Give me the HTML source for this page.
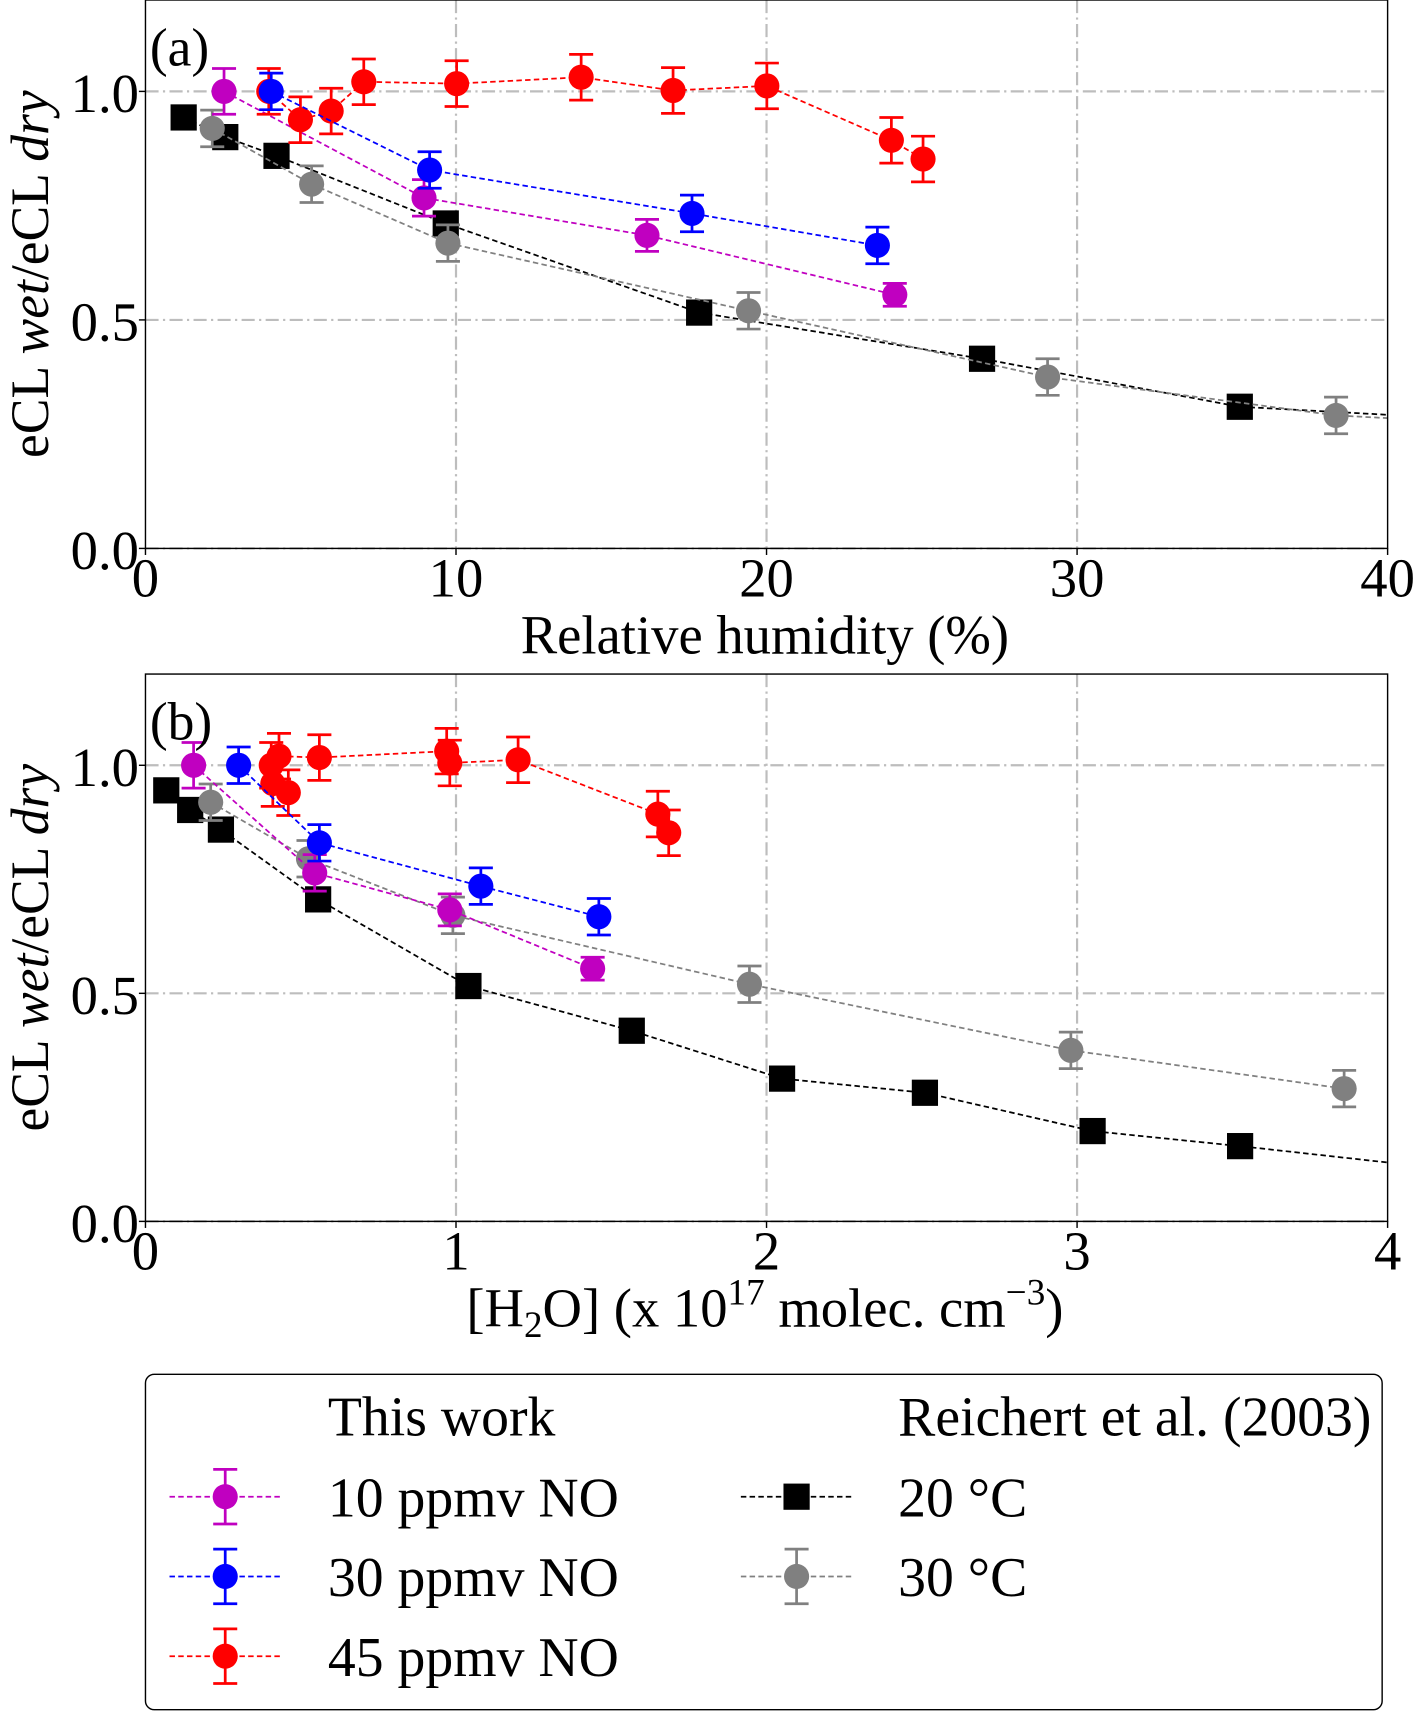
<!DOCTYPE html>
<html><head><meta charset="utf-8"><style>
html,body{margin:0;padding:0;background:#fff;}
svg{display:block;font-family:"Liberation Serif",serif;}
</style></head><body>
<svg id="chart" width="1414" height="1713" viewBox="0 0 1294 1568" xmlns="http://www.w3.org/2000/svg">
<defs>
<clipPath id="clipA"><rect x="133" y="0" width="1137" height="502"/></clipPath>
<clipPath id="clipB"><rect x="133" y="617" width="1137" height="501"/></clipPath>
</defs>
<g id="panelA"></g>
<g id="panelB"></g>
<g id="legend">
<rect x="133" y="1258" width="1132" height="307" rx="8" fill="#fff" stroke="#000" stroke-width="1.3"/>
<text x="300" y="1314" font-size="51">This work</text>
<text x="822" y="1314" font-size="51">Reichert et al. (2003)</text>
</g>
</svg>
<script>
// Panel (a): relative humidity (%)
const magentaA_x=[2.53,8.97,16.15,24.13];
const magentaA_y=[1.0,0.767,0.685,0.555];
const blueA_x=[4.05,9.15,17.6,23.57];
const blueA_y=[1.0,0.828,0.733,0.663];
const redA_x=[3.97,4.99,5.98,7.03,10.02,14.03,16.99,20.01,24.02,25.04];
const redA_y=[1.0,0.938,0.957,1.021,1.017,1.031,1.002,1.012,0.893,0.852];
const blackA_x=[1.23,2.57,4.22,9.67,17.83,26.94,35.24,42.0];
const blackA_y=[0.943,0.9,0.859,0.711,0.516,0.415,0.31,0.285];
const grayA_x=[2.15,5.35,9.74,19.42,29.05,38.34,42.0];
const grayA_y=[0.919,0.797,0.668,0.52,0.375,0.291,0.278];
// Panel (b): [H2O] (1e17 molec cm-3)
const magentaB_x=[0.155,0.545,0.98,1.44];
const magentaB_y=[1.0,0.764,0.683,0.554];
const blueB_x=[0.30,0.56,1.08,1.46];
const blueB_y=[1.0,0.83,0.735,0.668];
const redB_x=[0.405,0.46,0.41,0.43,0.56,0.97,0.98,1.2,1.65,1.685];
const redB_y=[1.0,0.94,0.96,1.02,1.017,1.031,1.005,1.012,0.893,0.852];
const blackB_x=[0.067,0.144,0.243,0.556,1.04,1.566,2.05,2.51,3.05,3.525,4.2];
const blackB_y=[0.945,0.902,0.859,0.706,0.516,0.418,0.313,0.282,0.198,0.165,0.114];
const grayB_x=[0.21,0.525,0.99,1.945,2.98,3.86];
const grayB_y=[0.919,0.795,0.671,0.52,0.375,0.291];
const errMagenta=[0.05,0.04,0.035,0.025], errBlue=0.04, errRed=0.05, errGray=0.04;
const xTicksA=["0","10","20","30","40"], xTickValsA=[0,10,20,30,40];
const xTicksB=["0","1","2","3","4"], xTickValsB=[0,1,2,3,4];
const yTicks=["0.0","0.5","1.0"], yTickVals=[0,0.5,1.0];

const NS="http://www.w3.org/2000/svg";
function mk(tag,attrs,parent){const e=document.createElementNS(NS,tag);for(const k in attrs)e.setAttribute(k,attrs[k]);parent.appendChild(e);return e;}

function panel(g,top,bottom,xmax,clip,xTicks,xVals,label,xtitle,series){
  const left=133,right=1270;
  const sx=v=>left+v/xmax*(right-left);
  const sy=v=>bottom-v*(bottom-top)/1.2;
  xVals.forEach(v=>{if(v>0&&v<xmax){const l=mk('line',{x1:sx(v),x2:sx(v),y1:top,y2:bottom,stroke:'#bdbdbd','stroke-width':2,'stroke-dasharray':'12 4 2 4'},g);
  
  }});
  yTickVals.forEach(v=>{const l=mk('line',{x1:left,x2:right,y1:sy(v),y2:sy(v),stroke:'#bdbdbd','stroke-width':2,'stroke-dasharray':'12 4 2 4'},g);
  
  });
  const cg=mk('g',{'clip-path':'url(#'+clip+')'},g);
  series.forEach(s=>{
    const sg=mk('g',{},cg);
    
    
    const pts=s.x.map((v,i)=>sx(v)+','+sy(s.y[i])).join(' ');
    const pl=mk('polyline',{points:pts,fill:'none',stroke:s.color,'stroke-width':1.6,'stroke-dasharray':'5 3'},sg);
    
    
    s.x.forEach((v,i)=>{
      const cx=sx(v),cy=sy(s.y[i]);
      if(s.err){
        const er=Array.isArray(s.err)?s.err[i]:s.err;
        const e1=mk('path',{d:`M${cx},${sy(s.y[i]-er)}V${sy(s.y[i]+er)}M${cx-11},${sy(s.y[i]-er)}h22M${cx-11},${sy(s.y[i]+er)}h22`,stroke:s.color,'stroke-width':2.5,fill:'none'},sg);
        
        
      }
      let m;
      if(s.square){m=mk('rect',{x:cx-12,y:cy-12,width:24,height:24,fill:s.color},sg);}
      else{m=mk('circle',{cx:cx,cy:cy,r:11.5,fill:s.color},sg);}
      
      
    });
  });
  const fr=mk('rect',{x:left,y:top,width:right-left,height:bottom-top,fill:'none',stroke:'#000','stroke-width':1.3},g);
  
  
  xVals.forEach((v,i)=>{
    mk('line',{x1:sx(v),x2:sx(v),y1:bottom,y2:bottom+6,stroke:'#000','stroke-width':1.3},g);
    const t=mk('text',{x:sx(v),y:bottom+44,'font-size':50,'text-anchor':'middle'},g);t.textContent=xTicks[i];
    
    
  });
  yTickVals.forEach((v,i)=>{
    mk('line',{x1:left-6,x2:left,y1:sy(v),y2:sy(v),stroke:'#000','stroke-width':1.3},g);
    const t=mk('text',{x:left-6,y:sy(v)+19,'font-size':50,'text-anchor':'end'},g);t.textContent=yTicks[i];
    
    
  });
  const lb=mk('text',{x:137,y:top+60,'font-size':49},g);lb.textContent=label;
  
  
  const yt=mk('text',{transform:`translate(44,${(top+bottom)/2}) rotate(-90)`,'font-size':49,'text-anchor':'middle'},g);
  yt.innerHTML='eCL <tspan font-style="italic">wet</tspan>/eCL <tspan font-style="italic">dry</tspan>';
  
  
  const xt=mk('text',{x:700,y:bottom+96,'font-size':50,'text-anchor':'middle'},g);xt.innerHTML=xtitle;
  
  
}
const M='#c000c0',B='#0000ff',R='#ff0000',K='#000000',G='#808080';
panel(document.getElementById('panelA'),0,502,40,'clipA',xTicksA,xTickValsA,'(a)','Relative humidity (%)',[
 {name:'black-20c',x:blackA_x,y:blackA_y,color:K,square:true},
 {name:'gray-30c',x:grayA_x,y:grayA_y,color:G,err:errGray},
 {name:'magenta-10ppmv',x:magentaA_x,y:magentaA_y,color:M,err:errMagenta},
 {name:'red-45ppmv',x:redA_x,y:redA_y,color:R,err:errRed},
 {name:'blue-30ppmv',x:blueA_x,y:blueA_y,color:B,err:errBlue}]);
panel(document.getElementById('panelB'),617,1118,4,'clipB',xTicksB,xTickValsB,'(b)','[H<tspan font-size="34" dy="10">2</tspan><tspan dy="-10">O] (x 10</tspan><tspan font-size="34" dy="-20">17</tspan><tspan dy="20"> molec. cm</tspan><tspan font-size="34" dy="-20">−3</tspan><tspan dy="20">)</tspan>',[
 {name:'black-20c',x:blackB_x,y:blackB_y,color:K,square:true},
 {name:'gray-30c',x:grayB_x,y:grayB_y,color:G,err:errGray},
 {name:'magenta-10ppmv',x:magentaB_x,y:magentaB_y,color:M,err:errMagenta},
 {name:'red-45ppmv',x:redB_x,y:redB_y,color:R,err:errRed},
 {name:'blue-30ppmv',x:blueB_x,y:blueB_y,color:B,err:errBlue}]);
const lg=document.getElementById('legend');
const entries=[[155,1370,M,'10 ppmv NO',true,false],[155,1443,B,'30 ppmv NO',true,false],[155,1516,R,'45 ppmv NO',true,false],[678,1370,K,'20 °C',false,true],[678,1443,G,'30 °C',true,false]];
entries.forEach(e=>{
  const g=mk('g',{},lg);
  
  
  const [x,y,c,t,err,sq]=e;
  mk('line',{x1:x,x2:x+103,y1:y,y2:y,stroke:c,'stroke-width':1.6,'stroke-dasharray':'5 3'},g);
  const cx=x+51;
  if(err)mk('path',{d:`M${cx},${y-25}V${y+25}M${cx-11},${y-25}h22M${cx-11},${y+25}h22`,stroke:c,'stroke-width':2.5,fill:'none'},g);
  if(sq)mk('rect',{x:cx-12,y:y-12,width:24,height:24,fill:c},g);else mk('circle',{cx:cx,cy:y,r:11.5,fill:c},g);
  const tx=mk('text',{x:x<300?300:822,y:y+18,'font-size':51},g);tx.textContent=t;
});
</script>
</body></html>
